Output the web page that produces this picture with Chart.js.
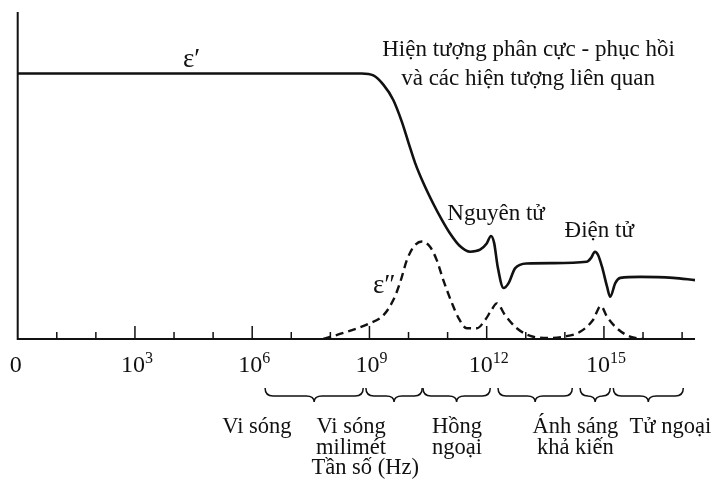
<!DOCTYPE html>
<html><head><meta charset="utf-8">
<script src="https://cdn.jsdelivr.net/npm/chart.js@4.4.1/dist/chart.umd.min.js"></script>
<style>html,body{margin:0;padding:0;background:#fff;} #wrap{width:717px;height:491px;}</style>
</head><body><div id="wrap"><canvas id="c" width="717" height="491"></canvas></div>
<script>
// x = log10(frequency in Hz), y = relative permittivity (arbitrary units)
const epsPrimeX = [0, 8.80, 9.10, 9.36, 9.61, 9.83, 10.00, 10.17, 10.38, 10.64, 10.85, 11.05, 11.30, 11.58, 11.83, 12.00, 12.11, 12.19, 12.28, 12.43, 12.56, 12.73, 13.03, 13.70, 14.56, 14.67, 14.77, 14.85, 14.95, 15.08, 15.16, 15.29, 15.42, 15.93, 16.77, 17.33];
const epsPrimeY = [81.2, 81.2, 80.6, 77.7, 73.1, 66.4, 60.0, 53.8, 47.7, 41.2, 36.5, 32.5, 28.6, 26.7, 27.3, 29.2, 31.5, 29.4, 22.2, 15.6, 17.1, 21.7, 23.1, 23.2, 23.6, 24.8, 26.7, 25.7, 22.1, 16.0, 12.9, 17.1, 18.7, 19.0, 18.7, 18.0];
const epsDoubleX = [7.82, 8.42, 8.97, 9.36, 9.61, 9.78, 9.96, 10.13, 10.34, 10.55, 10.72, 10.89, 11.11, 11.28, 11.49, 11.75, 11.96, 12.11, 12.26, 12.47, 12.77, 13.19, 13.62, 13.96, 14.39, 14.72, 14.92, 15.08, 15.33, 15.67, 16.01];
const epsDoubleY = [0, 2.2, 4.6, 7.3, 11.9, 17.1, 24.2, 28.2, 29.8, 28.2, 24.2, 18.0, 11.0, 6.4, 3.3, 3.3, 5.8, 8.6, 10.9, 7.3, 3.3, 0.7, 0.3, 0.7, 2.2, 5.8, 10.1, 6.8, 3.3, 0.7, 0];

const majorTickValues = [0, 3, 6, 9, 12, 15];
const tickBases = ['0', '10', '10', '10', '10', '10'];
const tickExponents = ['', '3', '6', '9', '12', '15'];
const minorTickMax = 17;

const bandStarts = [6.33, 8.91, 10.37, 12.29, 14.39, 15.24];
const bandEnds = [8.84, 10.35, 12.09, 14.19, 15.16, 17.03];
const bandLabelLines = [['Vi sóng'], ['Vi sóng', 'milimét'], ['Hồng', 'ngoại'], ['Ánh sáng', 'khả kiến'], ['Tử ngoại']];
const bandLabelX = [6.12, 8.53, 11.24, 14.27, 16.70];
const axisTitle = 'Tần số (Hz)';
const axisTitleX = 8.89;

const annotText = ['ε′', 'Hiện tượng phân cực - phục hồi', 'và các hiện tượng liên quan', 'Nguyên tử', 'Điện tử', 'ε″'];
const annotX = [4.45, 13.07, 13.06, 12.24, 14.88, 9.38];
const annotY = [83.2, 86.5, 77.7, 36.4, 31.3, 14.1];
const annotSize = [27, 23, 23, 23, 23, 27];

const serif = "'Liberation Serif','Times New Roman','DejaVu Serif',serif";
const ink = '#111';

const deco = {
  id: 'deco',
  afterDatasetsDraw(chart) {
    const {ctx, chartArea: a, scales: {x, y}} = chart;
    ctx.save();
    ctx.strokeStyle = ink; ctx.fillStyle = ink;
    // axes
    ctx.lineWidth = 2;
    ctx.beginPath();
    ctx.moveTo(a.left, a.top); ctx.lineTo(a.left, a.bottom); ctx.lineTo(a.right, a.bottom);
    ctx.stroke();
    // tick marks (pointing up)
    ctx.lineWidth = 1.5;
    for (let i = 1; i <= minorTickMax; i++) {
      const px = x.getPixelForValue(i);
      const len = majorTickValues.includes(i) ? 13 : 7;
      ctx.beginPath(); ctx.moveTo(px, a.bottom); ctx.lineTo(px, a.bottom - len); ctx.stroke();
    }
    // tick labels with superscripts
    ctx.textBaseline = 'alphabetic';
    ctx.textAlign = 'left';
    majorTickValues.forEach((v, i) => {
      const px = x.getPixelForValue(v);
      ctx.font = '24px ' + serif;
      const wb = ctx.measureText(tickBases[i]).width;
      ctx.font = '16px ' + serif;
      const we = tickExponents[i] ? ctx.measureText(tickExponents[i]).width : 0;
      const sx = px - (wb + we) / 2 + (tickExponents[i] ? 2 : -2);
      ctx.font = '24px ' + serif;
      ctx.fillText(tickBases[i], sx, a.bottom + 33);
      if (tickExponents[i]) {
        ctx.font = '16px ' + serif;
        ctx.fillText(tickExponents[i], sx + wb, a.bottom + 24);
      }
    });
    // braces
    ctx.lineWidth = 1.5;
    const y0 = a.bottom + 49, y1 = a.bottom + 57, y2 = a.bottom + 63, r = 8;
    bandStarts.forEach((s, i) => {
      const x0 = x.getPixelForValue(s), x1 = x.getPixelForValue(bandEnds[i]);
      const m = (x0 + x1) / 2;
      ctx.beginPath();
      ctx.moveTo(x0, y0);
      ctx.quadraticCurveTo(x0, y1, x0 + r, y1);
      ctx.lineTo(m - r, y1);
      ctx.quadraticCurveTo(m, y1, m, y2);
      ctx.quadraticCurveTo(m, y1, m + r, y1);
      ctx.lineTo(x1 - r, y1);
      ctx.quadraticCurveTo(x1, y1, x1, y0);
      ctx.stroke();
    });
    // band labels
    ctx.textAlign = 'center';
    ctx.font = '22.5px ' + serif;
    bandLabelLines.forEach((lines, i) => {
      const px = x.getPixelForValue(bandLabelX[i]);
      lines.forEach((t, j) => ctx.fillText(t, px, a.bottom + 94 + j * 21));
    });
    ctx.fillText(axisTitle, x.getPixelForValue(axisTitleX), a.bottom + 135);
    // annotations
    annotText.forEach((t, i) => {
      ctx.font = annotSize[i] + 'px ' + serif;
      ctx.fillText(t, x.getPixelForValue(annotX[i]), y.getPixelForValue(annotY[i]));
    });
    ctx.restore();
  }
};

new Chart(document.getElementById('c'), {
  type: 'line',
  data: {
    datasets: [
      {
        label: 'ε′',
        data: epsPrimeX.map((v, i) => ({x: v, y: epsPrimeY[i]})),
        borderColor: ink, borderWidth: 2.6, pointRadius: 0,
        cubicInterpolationMode: 'monotone', fill: false
      },
      {
        label: 'ε″',
        data: epsDoubleX.map((v, i) => ({x: v, y: epsDoubleY[i]})),
        borderColor: ink, borderWidth: 2.4, borderDash: [8, 5], pointRadius: 0,
        cubicInterpolationMode: 'monotone', fill: false
      }
    ]
  },
  options: {
    responsive: false,
    devicePixelRatio: 1,
    animation: false,
    layout: {padding: {left: 17.7, right: 22, top: 12, bottom: 152}},
    plugins: {legend: {display: false}, tooltip: {enabled: false}},
    scales: {
      x: {type: 'linear', min: 0, max: 17.33, display: false},
      y: {type: 'linear', min: 0, max: 100, display: false}
    }
  },
  plugins: [deco]
});
</script>
</body></html>
